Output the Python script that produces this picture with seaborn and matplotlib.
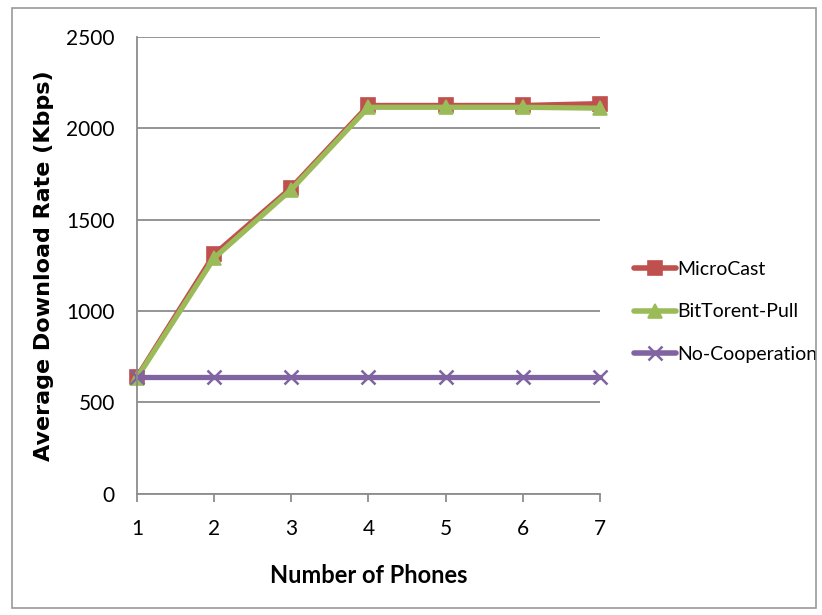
import matplotlib
matplotlib.use("Agg")
import matplotlib.pyplot as plt
from matplotlib.patches import Rectangle
import seaborn as sns
import pandas as pd

phones = [1, 2, 3, 4, 5, 6, 7]
microcast = [640, 1310, 1675, 2125, 2125, 2125, 2135]
bittorrent_pull = [635, 1290, 1665, 2115, 2115, 2115, 2110]
no_cooperation = [640, 640, 640, 640, 640, 640, 640]
series_names = ["MicroCast", "BitTorent-Pull", "No-Cooperation"]
y_ticks = [0, 500, 1000, 1500, 2000, 2500]

colors = ["#C0504D", "#9BBB59", "#8064A2"]
markers = ["s", "^", "x"]

sns.set_theme(style="white")
plt.rcParams["font.family"] = ["Lato", "DejaVu Sans"]
plt.rcParams["text.color"] = "black"
plt.rcParams["xtick.color"] = "black"
plt.rcParams["ytick.color"] = "black"
plt.rcParams["axes.labelcolor"] = "black"

fig = plt.figure(figsize=(8.22, 6.15), dpi=100)
ax = fig.add_axes([0.1667, 0.197, 0.563, 0.743])

# one lineplot per series, since filled and line-art markers are mixed
for name, vals, col, mk in zip(series_names, [microcast, bittorrent_pull, no_cooperation],
                               colors, markers):
    d = pd.DataFrame({"phones": phones, "rate": vals})
    sns.lineplot(data=d, x="phones", y="rate", color=col, marker=mk, linewidth=3.8,
                 markersize=10, markeredgewidth=1.2 if mk != "x" else 1.8,
                 markeredgecolor=col, label=name, ax=ax, clip_on=False)

ax.set_xlim(1, 7)
ax.set_ylim(0, 2500)
ax.set_xticks(phones)
ax.set_yticks(y_ticks)
ax.yaxis.grid(True, color="#8c8c8c", linewidth=1.3)
ax.xaxis.grid(False)
for side in ["top", "right"]:
    ax.spines[side].set_visible(False)
for side in ["left", "bottom"]:
    ax.spines[side].set_color("#8c8c8c")
    ax.spines[side].set_linewidth(1.3)
ax.tick_params(axis="x", which="both", bottom=True, length=6, width=1.3,
               color="#8c8c8c", labelsize=15, pad=12)
ax.tick_params(axis="y", left=False, labelsize=15, pad=10)
ax.set_xlabel("Number of Phones", fontsize=17, fontweight="bold", labelpad=18)
ax.set_ylabel("Average Download Rate (Kbps)", fontsize=16, fontweight="bold",
              family="DejaVu Sans", labelpad=9)

leg = ax.legend(loc="center left", bbox_to_anchor=(1.035, 0.398), frameon=False,
                fontsize=14, handlelength=2.2, labelspacing=1.3, handletextpad=0.05)
for line in leg.get_lines():
    line.set_linewidth(4)

# thin frame around the whole figure
fig.patches.append(Rectangle((0.0146, 0.012), 0.978, 0.975, transform=fig.transFigure,
                             fill=False, edgecolor="#9a9a9a", linewidth=1.2))

fig.savefig("out.png", dpi=100)
